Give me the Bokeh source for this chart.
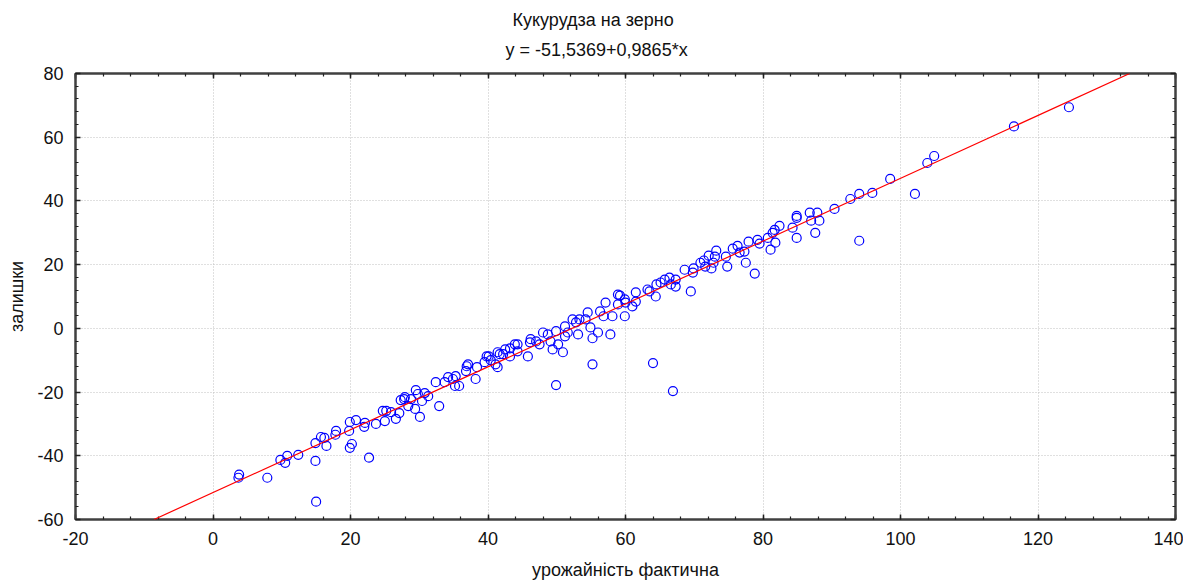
from bokeh.plotting import figure
from bokeh.models import (Slope, Title, LinearAxis, SingleIntervalTicker, Range1d,
                          NumeralTickFormatter)
from bokeh.embed import file_html
from bokeh.resources import INLINE

# ---- data ----
x_vals = [
    3.8, 3.7, 7.9, 9.8, 10.5, 10.8, 12.4, 14.9, 15.0, 14.9, 15.7, 16.2, 16.5, 17.9, 17.8,
    19.9, 19.8, 20.8, 20.2, 19.9, 22.1, 22.0, 22.7, 23.7, 24.7, 25.0,
    25.2, 25.9, 26.6, 27.1, 27.3, 27.8, 27.9, 28.4, 28.8, 29.4, 29.5, 30.1, 29.8, 30.4,
    30.8, 31.3, 32.4, 32.9, 33.7, 34.2, 34.9, 35.2, 35.8, 35.3, 36.9, 36.8, 37.1, 38.2,
    38.4, 39.5, 39.8, 40.1, 40.4, 41.1, 41.4, 41.4,
    41.7, 42.2, 42.5, 43.2, 43.2, 43.9, 44.3, 44.3, 45.8, 46.1, 46.2, 47.0, 47.5, 48.0,
    48.7, 49.1, 49.4, 49.9, 49.9, 50.2, 50.9, 51.2, 51.2, 51.6, 52.3, 52.8, 53.1, 53.3,
    54.2, 54.5, 54.9, 55.2, 55.2, 56.0, 56.3, 56.8, 57.1, 57.8, 58.1, 58.9, 58.9, 59.2,
    59.9, 59.9, 60.0, 61.0, 61.5, 61.5,
    63.2, 63.5, 64.0, 64.4, 64.5, 65.1, 65.7, 66.4, 66.6, 66.9, 67.3, 67.3, 68.6, 69.5,
    69.8, 69.9, 70.9, 71.4, 71.6, 72.1, 72.5, 72.8, 73.0, 73.2, 74.6, 74.8, 75.6, 76.3,
    76.6, 77.3, 77.5, 77.9, 78.8, 79.2, 79.5,
    80.7, 81.1, 81.4, 81.8, 81.7, 82.4, 84.3, 84.9, 84.9, 84.9, 86.8, 87.0, 87.6, 87.9,
    88.2, 90.4, 92.7, 94.0, 94.0, 95.9, 98.5, 102.1, 103.9, 104.9, 116.5, 124.5,
]
y_vals = [
    -45.9, -46.9, -46.9, -41.3, -42.2, -40.0, -39.7, -41.6, -54.4, -36.0, -34.1, -34.4, -36.9, -32.2, -33.4,
    -29.4, -32.2, -28.8, -36.3, -37.5, -29.7, -30.9, -40.6, -30.0, -25.9, -29.1,
    -25.9, -26.3, -28.4, -26.6, -22.5, -22.2, -21.6, -24.4, -22.2, -25.3, -19.4, -27.8, -20.6, -22.8,
    -20.3, -21.3, -16.9, -24.4, -16.9, -15.3, -15.9, -18.1, -18.1, -15.0, -11.9, -13.4, -11.3, -15.9,
    -12.2, -10.6, -8.8, -8.8, -10.0, -11.3, -7.5, -12.2,
    -8.1, -8.1, -6.6, -6.3, -8.8, -5.0, -5.0, -7.2, -8.8, -4.4, -3.4, -4.1, -5.0, -1.3,
    -1.9, -4.1, -6.6, -0.9, -17.8, -5.0, -7.5, 0.6, -2.5, -1.3, 2.8, 1.9, -1.9, 2.8,
    2.8, 5.0, 0.3, -3.1, -11.3, -1.3, 5.3, 3.8, 8.1, -1.9, 3.8, 10.6, 7.5, 10.3,
    3.8, 9.1, 8.1, 6.9, 11.3, 8.4,
    12.2, 11.6, -10.9, 10.0, 13.8, 14.4, 15.3, 15.9, 13.8, -19.7, 15.3, 13.1, 18.4, 11.6,
    17.5, 18.8, 20.6, 21.3, 19.4, 22.8, 18.8, 20.6, 22.5, 24.4, 22.5, 19.4, 25.0, 25.9,
    23.8, 24.1, 20.6, 27.2, 17.2, 27.8, 26.6,
    28.4, 24.7, 30.0, 26.9, 30.9, 32.2, 31.6, 28.4, 34.7, 35.3, 36.3, 33.8, 30.0, 36.3,
    33.8, 37.5, 40.6, 42.2, 27.5, 42.5, 46.9, 42.2, 51.9, 54.1, 63.4, 69.4,
]
intercept = -51.5369
slope = 0.9865
title_text = "Кукурудза на зерно"
equation_text = "y = -51,5369+0,9865*x"
x_label = "урожайність фактична"
y_label = "залишки"
x_min, x_max, x_step = -20, 140, 20
y_min, y_max, y_step = -60, 80, 20

FONT = "Liberation Sans"
AXIS_COLOR = "#404040"
TEXT_COLOR = "#111111"

p = figure(
    frame_width=1100, frame_height=446,
    x_range=Range1d(x_min, x_max), y_range=Range1d(y_min, y_max),
    output_backend="svg", toolbar_location=None,
    min_border_left=10, min_border_right=0, min_border_top=10, min_border_bottom=10,
    background_fill_color="white", border_fill_color="white",
)
p.title.visible = False
p.outline_line_color = AXIS_COLOR
p.outline_line_width = 2


def style_axis(ax, step, lo, hi, show_labels=True):
    ax.ticker = SingleIntervalTicker(interval=step, num_minor_ticks=5)
    ax.axis_line_color = AXIS_COLOR
    ax.axis_line_width = 2
    ax.major_tick_in = 5
    ax.major_tick_out = 0
    ax.minor_tick_in = 3
    ax.minor_tick_out = 0
    ax.major_tick_line_color = "#202020"
    ax.minor_tick_line_color = "#202020"
    ax.major_tick_line_width = 1.5
    ax.minor_tick_line_width = 1.2
    ax.major_label_text_font = FONT
    ax.axis_label_text_font = FONT
    ax.axis_label_text_font_style = "normal"
    ax.major_label_text_color = TEXT_COLOR
    ax.axis_label_text_color = TEXT_COLOR
    ax.major_label_text_font_size = "18px"
    ax.axis_label_text_font_size = "18px"
    if show_labels:
        ax.formatter = NumeralTickFormatter(format="0")
        ax.major_label_standoff = 12
        ax.axis_label_standoff = 12
    else:
        ax.major_label_overrides = {v: "" for v in range(lo, hi + 1, step)}
        ax.major_label_standoff = 0


def make_spacer(step, lo, hi, size):
    sp = LinearAxis()
    style_axis(sp, step, lo, hi, show_labels=False)
    sp.axis_line_color = None
    sp.major_tick_line_color = None
    sp.minor_tick_line_color = None
    sp.major_tick_in = 0
    sp.minor_tick_in = 0
    sp.major_tick_out = size
    return sp


style_axis(p.xaxis[0], x_step, x_min, x_max)
style_axis(p.yaxis[0], y_step, y_min, y_max)
p.xaxis[0].axis_label = x_label
p.yaxis[0].axis_label = y_label
p.yaxis[0].major_label_standoff = 12
p.yaxis[0].axis_label_standoff = 7

top_axis = LinearAxis()
right_axis = LinearAxis()
style_axis(top_axis, x_step, x_min, x_max, show_labels=False)
style_axis(right_axis, y_step, y_min, y_max, show_labels=False)
p.add_layout(top_axis, "above")
p.add_layout(right_axis, "right")

# invisible spacers (outside the real axes)
p.add_layout(make_spacer(x_step, x_min, x_max, 14), "above")
p.add_layout(make_spacer(y_step, y_min, y_max, 4), "left")
p.add_layout(make_spacer(y_step, y_min, y_max, 8), "right")

# titles: first added sits closest to the frame
p.add_layout(Title(text=equation_text, align="left", offset=430, standoff=0,
                   text_font=FONT, text_font_size="18px", text_font_style="normal",
                   text_color=TEXT_COLOR), "above")
p.add_layout(Title(text=title_text, align="left", offset=437, standoff=15,
                   text_font=FONT, text_font_size="18px", text_font_style="normal",
                   text_color=TEXT_COLOR), "above")

p.xgrid.ticker = SingleIntervalTicker(interval=x_step)
p.ygrid.ticker = SingleIntervalTicker(interval=y_step)
p.grid.grid_line_color = "#c0c0c0"
p.grid.grid_line_dash = "1 2"
p.grid.grid_line_width = 1

p.scatter(x_vals, y_vals, marker="circle", size=9, fill_color=None,
          line_color="#0000ff", line_width=1.2)

p.add_layout(Slope(gradient=slope, y_intercept=intercept,
                   line_color="#ff0000", line_width=1.2))

open("out.html", "w").write(file_html(p, INLINE))
